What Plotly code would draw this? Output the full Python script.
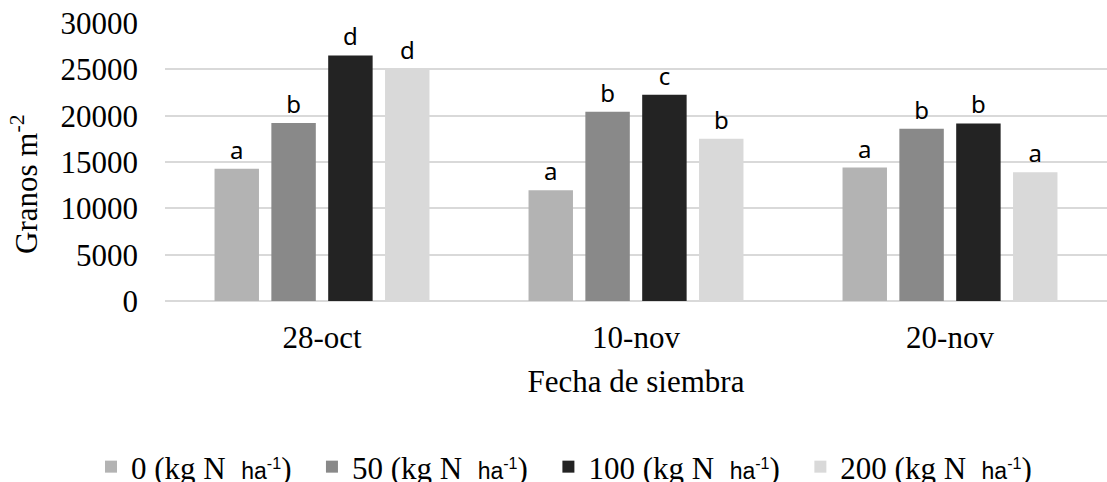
import plotly.graph_objects as go

categories = ["28-oct", "10-nov", "20-nov"]
series_names = ["0", "50", "100", "200"]
values = {
    "0": [14260, 11960, 14400],
    "50": [19200, 20420, 18580],
    "100": [26500, 22250, 19160],
    "200": [25030, 17500, 13900],
}
letters = {
    "0": ["a", "a", "a"],
    "50": ["b", "b", "b"],
    "100": ["d", "c", "b"],
    "200": ["d", "b", "a"],
}
colors = {"0": "#b3b3b3", "50": "#898989", "100": "#232323", "200": "#d9d9d9"}
y_ticks = [0, 5000, 10000, 15000, 20000, 25000, 30000]

SERIF = "Liberation Serif"
SANS = "Liberation Sans"
NBSP = "\u00a0"

fig = go.Figure()
for i, s in enumerate(series_names):
    pad = NBSP * 2 if i < len(series_names) - 1 else ""
    fig.add_trace(go.Bar(
        x=categories,
        y=values[s],
        name=(f"{s} (kg N{NBSP}{NBSP}<span style='font-family:{SANS};font-size:23px'>"
              f"ha<sup>-1</sup></span>){pad}"),
        marker=dict(color=colors[s], line=dict(width=0)),
        text=letters[s],
        textposition="outside",
        textfont=dict(family="Noto Sans", size=24, color="black"),
        cliponaxis=False,
        hoverinfo="skip",
    ))

fig.update_layout(
    width=1107, height=482,
    margin=dict(l=165, r=0, t=23, b=181, autoexpand=False),
    paper_bgcolor="white", plot_bgcolor="white",
    barmode="group", bargap=0.276, bargroupgap=0.218,
    font=dict(family=SERIF, size=31, color="black"),
    showlegend=True,
    legend=dict(
        orientation="h", x=(564 - 165) / 942, xanchor="center",
        y=-(467 - 301) / 278, yanchor="middle",
        font=dict(family=SERIF, size=31, color="black"),
        itemwidth=30, traceorder="normal",
    ),
    xaxis=dict(
        showgrid=False, showline=False, zeroline=False,
        ticks="", tickfont=dict(family=SERIF, size=31),
        ticklabelstandoff=15,
        title=dict(text="Fecha de siembra", font=dict(family=SERIF, size=31), standoff=16),
    ),
    yaxis=dict(
        range=[0, 30000], tickvals=y_ticks, ticktext=[str(v) for v in y_ticks],
        showgrid=True, gridcolor="#d9d9d9", gridwidth=1.5,
        zeroline=True, zerolinecolor="#d9d9d9", zerolinewidth=1.5,
        showline=False, ticks="",
        tickfont=dict(family=SERIF, size=31),
        ticklabelstandoff=26,
    ),
)

fig.add_annotation(
    text="Granos m<sup>-2</sup>", textangle=-90,
    xref="paper", x=-140 / 942, xanchor="center",
    yref="paper", y=(301 - 185) / 278, yanchor="middle",
    showarrow=False, font=dict(family=SERIF, size=31, color="black"),
)

fig.write_html("out.html")
